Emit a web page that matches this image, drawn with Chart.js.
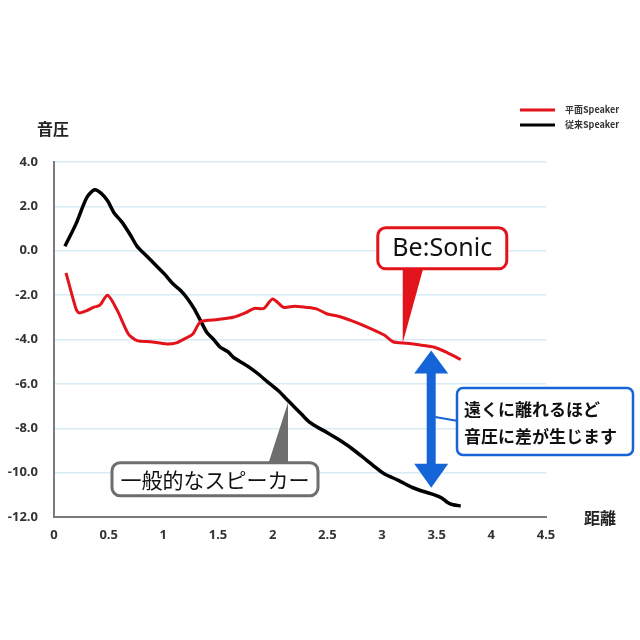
<!DOCTYPE html>
<html lang="ja">
<head>
<meta charset="UTF-8">
<title>音圧と距離</title>
<script src="https://cdn.jsdelivr.net/npm/chart.js"></script>
<style>
  html, body { margin: 0; padding: 0; background: #fff; }
  #wrap { width: 640px; height: 640px; }
</style>
</head>
<body>
<div id="wrap"><canvas id="spl" width="640" height="640"></canvas></div>
<script>
// 平面Speaker (Be:Sonic) - distance / sound pressure
const redX = [0.11, 0.2, 0.23, 0.3, 0.36, 0.42, 0.49, 0.58, 0.68, 0.76, 0.88, 1.03, 1.12, 1.19, 1.27, 1.34,
  1.5, 1.64, 1.75, 1.83, 1.92, 2.0, 2.1, 2.2, 2.3, 2.4, 2.5, 2.6, 2.72, 2.87, 3.02, 3.1, 3.23, 3.35, 3.48, 3.6, 3.72];
const redY = [-1.0, -2.6, -2.8, -2.7, -2.55, -2.45, -2.0, -2.7, -3.75, -4.05, -4.1, -4.2, -4.15, -3.98, -3.75, -3.2,
  -3.1, -3.0, -2.8, -2.6, -2.6, -2.17, -2.55, -2.5, -2.55, -2.62, -2.85, -2.95, -3.15, -3.45, -3.8, -4.1, -4.17, -4.25, -4.35, -4.6, -4.9];

// 従来Speaker
const blackX = [0.1, 0.2, 0.3, 0.37, 0.43, 0.49, 0.55, 0.62, 0.7, 0.76, 0.85, 0.94, 1.02, 1.09, 1.16, 1.22, 1.28,
  1.34, 1.4, 1.46, 1.52, 1.59, 1.64, 1.72, 1.8, 1.88, 1.95, 2.05, 2.14, 2.2, 2.26, 2.33, 2.41, 2.5, 2.6, 2.72,
  2.85, 2.95, 3.02, 3.15, 3.27, 3.38, 3.48, 3.55, 3.6, 3.65, 3.72];
const blackY = [0.2, 1.2, 2.4, 2.75, 2.6, 2.25, 1.7, 1.3, 0.7, 0.2, -0.25, -0.7, -1.1, -1.5, -1.8, -2.15, -2.6,
  -3.15, -3.7, -4.0, -4.35, -4.55, -4.8, -5.05, -5.3, -5.6, -5.9, -6.3, -6.75, -7.05, -7.35, -7.7, -7.95, -8.2, -8.5, -8.9,
  -9.4, -9.8, -10.05, -10.35, -10.65, -10.85, -11.0, -11.15, -11.35, -11.45, -11.5];

const seriesLabels = ['平面Speaker', '従来Speaker'];
const seriesColors = ['#e3131b', '#000000'];

const toPoints = (xs, ys) => xs.map((x, i) => ({ x: x, y: ys[i] }));

const jp = '"Noto Sans CJK JP", "Noto Sans", sans-serif';
const tickFont = { family: '"Open Sans", "DejaVu Sans", sans-serif', size: 13, weight: 'bold' };

function roundBox(ctx, x, y, w, h, r) {
  ctx.beginPath();
  ctx.moveTo(x + r, y);
  ctx.lineTo(x + w - r, y);
  ctx.arcTo(x + w, y, x + w, y + r, r);
  ctx.lineTo(x + w, y + h - r);
  ctx.arcTo(x + w, y + h, x + w - r, y + h, r);
  ctx.lineTo(x + r, y + h);
  ctx.arcTo(x, y + h, x, y + h - r, r);
  ctx.lineTo(x, y + r);
  ctx.arcTo(x, y, x + r, y, r);
  ctx.closePath();
}

const extras = {
  id: 'extras',
  afterDatasetsDraw(chart) {
    const ctx = chart.ctx;
    const xs = chart.scales.x, ys = chart.scales.y;
    ctx.save();

    // axis titles
    ctx.fillStyle = '#222';
    ctx.font = 'bold 16px ' + jp;
    ctx.textAlign = 'center';
    ctx.textBaseline = 'middle';
    ctx.fillText('音圧', 53, 129);
    ctx.fillText('距離', 600, 518);

    // legend
    ctx.font = 'bold 9px ' + jp;
    ctx.textAlign = 'left';
    chart.data.datasets.forEach((ds, i) => {
      const ly = 110 + i * 15;
      ctx.strokeStyle = ds.borderColor;
      ctx.lineWidth = 3;
      ctx.beginPath();
      ctx.moveTo(520, ly);
      ctx.lineTo(555, ly);
      ctx.stroke();
      ctx.fillStyle = '#333';
      ctx.fillText(ds.label, 565, ly);
    });

    // Be:Sonic callout
    let tx = xs.getPixelForValue(3.19), ty = ys.getPixelForValue(-4.15);
    ctx.fillStyle = '#e3131b';
    ctx.beginPath();
    ctx.moveTo(tx, ty);
    ctx.lineTo(tx, ty - 80);
    ctx.lineTo(tx + 22, ty - 80);
    ctx.closePath();
    ctx.fill();
    roundBox(ctx, tx - 25, ty - 115, 129, 41, 8);
    ctx.fillStyle = '#fff';
    ctx.fill();
    ctx.lineWidth = 3;
    ctx.strokeStyle = '#e3131b';
    ctx.stroke();
    ctx.fillStyle = '#111';
    ctx.font = '25px "Noto Sans", "Open Sans", sans-serif';
    ctx.textAlign = 'center';
    ctx.fillText('Be:Sonic', tx + 39.5, ty - 94);

    // 一般的なスピーカー callout
    tx = xs.getPixelForValue(2.14); ty = ys.getPixelForValue(-6.85);
    ctx.fillStyle = '#6e6e6e';
    ctx.beginPath();
    ctx.moveTo(tx, ty);
    ctx.lineTo(tx - 20, ty + 62);
    ctx.lineTo(tx, ty + 62);
    ctx.closePath();
    ctx.fill();
    roundBox(ctx, 112, ty + 60, 206, 33, 8);
    ctx.fillStyle = '#fff';
    ctx.fill();
    ctx.lineWidth = 3;
    ctx.strokeStyle = '#6e6e6e';
    ctx.stroke();
    ctx.fillStyle = '#111';
    ctx.font = '21px ' + jp;
    ctx.fillText('一般的なスピーカー', 215, ty + 77);

    // blue double arrow
    const ax = xs.getPixelForValue(3.45);
    const aTop = ys.getPixelForValue(-4.5), aBot = ys.getPixelForValue(-10.68);
    const blue = '#1565d8';
    ctx.fillStyle = blue;
    ctx.fillRect(ax - 4.5, aTop + 20, 9, aBot - aTop - 40);
    ctx.beginPath();
    ctx.moveTo(ax, aTop);
    ctx.lineTo(ax - 17, aTop + 23);
    ctx.lineTo(ax + 17, aTop + 23);
    ctx.closePath();
    ctx.fill();
    ctx.beginPath();
    ctx.moveTo(ax, aBot);
    ctx.lineTo(ax - 17, aBot - 24);
    ctx.lineTo(ax + 17, aBot - 24);
    ctx.closePath();
    ctx.fill();

    // connector + note box
    ctx.strokeStyle = blue;
    ctx.lineWidth = 2;
    ctx.beginPath();
    ctx.moveTo(ax + 4, 417);
    ctx.lineTo(458, 421);
    ctx.stroke();
    roundBox(ctx, 457, 388, 176, 67, 6);
    ctx.fillStyle = '#fff';
    ctx.fill();
    ctx.lineWidth = 2.5;
    ctx.stroke();
    ctx.fillStyle = '#111';
    ctx.font = 'bold 17px ' + jp;
    ctx.textAlign = 'left';
    ctx.fillText('遠くに離れるほど', 464, 410);
    ctx.fillText('音圧に差が生じます', 464, 437);

    ctx.restore();
  }
};

new Chart(document.getElementById('spl'), {
  type: 'line',
  data: {
    datasets: [
      {
        label: seriesLabels[0],
        data: toPoints(redX, redY),
        borderColor: seriesColors[0],
        borderWidth: 3,
        pointRadius: 0,
        tension: 0.25,
        fill: false
      },
      {
        label: seriesLabels[1],
        data: toPoints(blackX, blackY),
        borderColor: seriesColors[1],
        borderWidth: 3.5,
        pointRadius: 0,
        tension: 0.25,
        fill: false
      }
    ]
  },
  options: {
    responsive: false,
    animation: false,
    devicePixelRatio: 1,
    layout: { padding: { left: 0, right: 94, top: 162, bottom: 0 } },
    plugins: {
      legend: { display: false },
      tooltip: { enabled: false }
    },
    scales: {
      x: {
        type: 'linear',
        min: 0,
        max: 4.5,
        afterFit: (s) => { s.height = 123; },
        grid: { display: false, drawTicks: false },
        border: { display: true, color: '#7a7a7a', width: 2 },
        ticks: { stepSize: 0.5, padding: 10, color: '#333', font: tickFont, maxRotation: 0,
          callback: (v) => String(Math.round(v * 10) / 10) }
      },
      y: {
        min: -12,
        max: 4,
        afterFit: (s) => { s.width = 54; },
        grid: { color: '#d7ebf4', lineWidth: 1.5, drawTicks: false },
        border: { display: true, color: '#7a7a7a', width: 2 },
        ticks: {
          stepSize: 2,
          padding: 16,
          color: '#333',
          font: tickFont,
          callback: (v) => v.toFixed(1)
        }
      }
    }
  },
  plugins: [extras]
});
</script>
</body>
</html>
